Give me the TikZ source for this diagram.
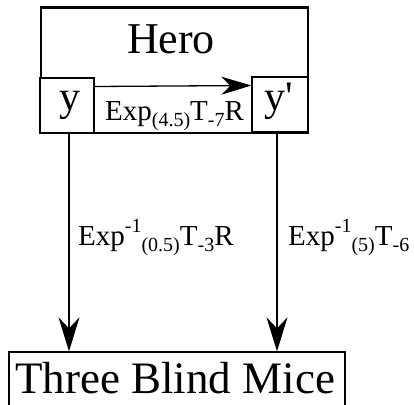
\documentclass[tikz,border=0pt]{standalone}
\usepackage{fontspec}
\setmainfont{Liberation Serif}
\newfontfamily\primefont[Ligatures=TeXOff]{Liberation Serif}
\usetikzlibrary{arrows.meta}
\newcommand\mysup[1]{\raisebox{0.42em}{\fontsize{20}{20}\selectfont #1}}
\newcommand\mysub[1]{\raisebox{-0.22em}{\fontsize{20}{20}\selectfont #1}}
\tikzset{
  box/.style={draw, line width=1.3pt, inner sep=0pt, rectangle},
  big/.style={font=\fontsize{44}{44}\selectfont, inner sep=0pt, anchor=base},
  lab/.style={font=\fontsize{29}{29}\selectfont, inner sep=0pt, anchor=base west},
  conn/.style={line width=1.3pt},
  harrow/.style={conn, -{Stealth[length=30pt,width=18pt,inset=9pt]}},
  varrow/.style={conn, -{Stealth[length=34pt,width=21pt,inset=11pt]}},
}
\begin{document}
\begin{tikzpicture}[x=1pt,y=-1pt]
\useasboundingbox (0,0) rectangle (414,404);
\clip (0,0) rectangle (414,404);
% Hero box
\node[box, minimum width=267pt, minimum height=125pt] (hero) at (174.5,70.5) {};
\draw[line width=2.5pt] (hero.north west) -- (hero.north east);
\node[big] (herotext) at (171,53) {Hero};
% y boxes
\node[box, minimum width=54pt, minimum height=55pt, fill=white] (y) at (67,105.5) {};
\node[big, font=\fontsize{42}{42}\selectfont] (ytext) at (70,110) {y};
\node[box, minimum width=56pt, minimum height=55pt, fill=white] (yp) at (280,104.5) {};
\node[big, font=\fontsize{42}{42}\selectfont] (yptext) at (279,110) {y{\primefont'}};
% bottom box
\node[box, minimum width=336pt, minimum height=80pt] (mice) at (177,392) {};
\node[big, font=\fontsize{45}{45}\selectfont] (micetext) at (175,393) {Three Blind Mice};
% connectors
\draw[harrow] ([yshift=19pt]y.east) -- ([yshift=19pt]yp.west);
\node[lab] (l1) at (105,120) {Exp\mysub{(4.5)}T\mysub{-7}R};
\draw[varrow] ([xshift=2pt]y.south) -- ([xshift=2pt]y.south |- mice.north);
\draw[varrow] ([xshift=-3pt]yp.south) -- ([xshift=-3pt]yp.south |- mice.north);
\node[lab] (l2) at (78,245) {Exp\mysup{-1}\mysub{(0.5)}T\mysub{-3}R};
\node[lab] (l3) at (288,245) {Exp\mysup{-1}\mysub{(5)}T\mysub{-6}};
\end{tikzpicture}
\end{document}
